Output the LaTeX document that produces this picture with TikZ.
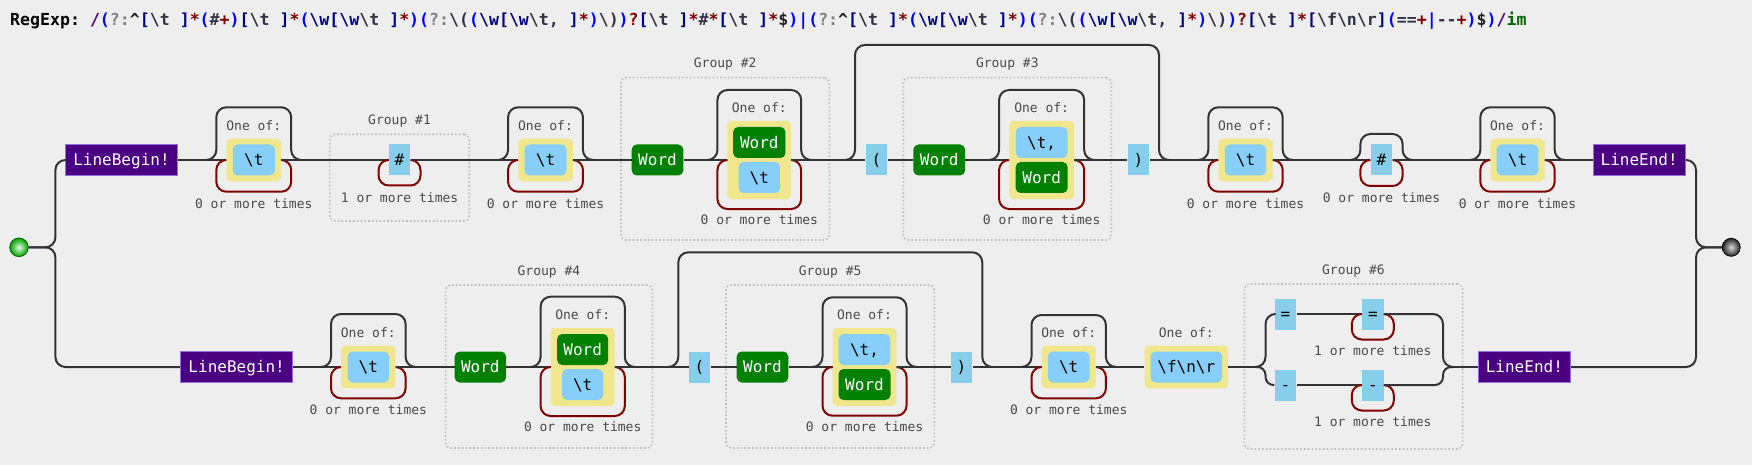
\documentclass[tikz,border=0pt]{standalone}
\usepackage{fontspec}
\newfontfamily\dvm{DejaVu Sans Mono}
\usetikzlibrary{calc}
\definecolor{bgC}{HTML}{EEEEEE}
\definecolor{railC}{HTML}{333333}
\definecolor{maroonC}{HTML}{800000}
\definecolor{khakiC}{HTML}{F0E68C}
\definecolor{lskyC}{HTML}{87CEFA}
\definecolor{skyC}{HTML}{87CEEB}
\definecolor{wordC}{HTML}{008000}
\definecolor{indigoC}{HTML}{4B0082}
\definecolor{indigoB}{HTML}{9370DB}
\definecolor{grpC}{HTML}{BDBDBD}
\definecolor{lblC}{HTML}{4A4A4A}
\definecolor{rxDc}{HTML}{4B0082}
\definecolor{rxGc}{HTML}{0000FF}
\definecolor{rxNc}{HTML}{808080}
\definecolor{rxEc}{HTML}{333344}
\definecolor{rxSc}{HTML}{000080}
\definecolor{rxRc}{HTML}{800000}
\definecolor{rxFc}{HTML}{006400}
\definecolor{rxKc}{HTML}{222222}
\newcommand\rxbs{\textbackslash}
\newcommand\rxD[1]{\textcolor{rxDc}{#1}}
\newcommand\rxG[1]{\textcolor{rxGc}{#1}}
\newcommand\rxN[1]{\textcolor{rxNc}{#1}}
\newcommand\rxE[1]{\textcolor{rxEc}{#1}}
\newcommand\rxS[1]{\textcolor{rxSc}{#1}}
\newcommand\rxR[1]{\textcolor{rxRc}{#1}}
\newcommand\rxF[1]{\textcolor{rxFc}{#1}}
\newcommand\rxK[1]{\textcolor{rxKc}{#1}}
\newcommand\rxTS{\rxS{[}\rxE{\rxbs t }\rxS{]}\rxR{*}}
\newcommand\rxWA{\rxS{\rxbs w}\rxS{[}\rxS{\rxbs w}\rxE{\rxbs t }\rxS{]}\rxR{*}}
\newcommand\rxWB{\rxS{\rxbs w}\rxS{[}\rxS{\rxbs w}\rxE{\rxbs t, }\rxS{]}\rxR{*}}
\newcommand\rrskip[2]{\draw[rr] let \p1=(#1.west), \p2=(#1.east) in (\x1-20pt,\y1) -- (\x1-10pt,\y1) -- (\x1-10pt,-#2pt) -- (\x2+10pt,-#2pt) -- (\x2+10pt,\y2) -- (\x2+20pt,\y2);}
\newcommand\rrloop[2]{\draw[lpc] let \p1=(#1.west), \p2=(#1.east) in (\x2,\y2) -- (\x2+10pt,\y2) -- (\x2+10pt,-#2pt) -- (\x1-10pt,-#2pt) -- (\x1-10pt,\y1) -- (\x1,\y1);}
\begin{document}
\begin{tikzpicture}[x=1pt,y=-1pt,
  rr/.style={draw=railC, line width=2pt, rounded corners=10pt},
  lpc/.style={draw=maroonC, line width=2pt, rounded corners=10pt},
  bx/.style={inner sep=0pt, font=\dvm\fontsize{16}{19}\selectfont, text height=11.7pt, text depth=0pt, minimum height=31pt},
  exch/.style={bx, fill=skyC, text=black},
  csi/.style={bx, fill=lskyC, rounded corners=5pt, text=black},
  wrd/.style={bx, fill=wordC, rounded corners=5pt, text=white},
  asrt/.style={bx, fill=indigoC, draw=indigoB, line width=1pt, text=white},
  cset/.style={fill=khakiC, rounded corners=4pt, inner sep=0pt, minimum height=42.6pt},
  csettwo/.style={cset, minimum height=78pt},
  grp/.style={draw=grpC, line width=1.6pt, dash pattern=on 1.6pt off 2.2pt, rounded corners=5pt, inner sep=0pt},
  lbl/.style={font=\dvm\fontsize{13}{15}\selectfont, text=lblC, inner sep=0pt, text height=9.4pt, text depth=0pt},
  hdr/.style={anchor=base west, inner sep=0pt, font=\dvm\bfseries\fontsize{16.57}{20}\selectfont, text=black}]
\useasboundingbox (0,0) rectangle (1752,465);
\fill[bgC] (0,0) rectangle (1752,465);
% header
\node[hdr] (hdr) at (10,26) {\frenchspacing RegExp: \rxD{/}\rxG{(}\rxN{?:}\rxK{\symbol{94}}\rxTS\rxG{(}\rxE{\#}\rxR{+}\rxG{)}\rxTS\rxG{(}\rxWA\rxG{)}\rxG{(}\rxN{?:}\rxE{\rxbs(}\rxG{(}\rxWB\rxG{)}\rxE{\rxbs)}\rxG{)}\rxR{?}\rxTS\rxE{\#}\rxR{*}\rxTS\rxK{\$}\rxG{)}\rxG{|}\rxG{(}\rxN{?:}\rxK{\symbol{94}}\rxTS\rxG{(}\rxWA\rxG{)}\rxG{(}\rxN{?:}\rxE{\rxbs(}\rxG{(}\rxWB\rxG{)}\rxE{\rxbs)}\rxG{)}\rxR{?}\rxTS\rxS{[}\rxE{\rxbs f\rxbs n\rxbs r}\rxS{]}\rxG{(}\rxE{==}\rxR{+}\rxG{|}\rxE{-{}-}\rxR{+}\rxG{)}\rxK{\$}\rxG{)}\rxD{/}\rxF{im}};
% groups
\node[grp, minimum width=139.3pt, minimum height=86.7pt] (g1) at (399.55,177.65) {};
\node[lbl] (g1l) at (399.55,120.3) {Group \#1};
\node[grp, minimum width=208.3pt, minimum height=162.3pt] (g2) at (725.15,158.85) {};
\node[lbl] (g2l) at (725.15,63.3) {Group \#2};
\node[grp, minimum width=208pt, minimum height=162.3pt] (g3) at (1007.3,158.85) {};
\node[lbl] (g3l) at (1007.3,63.3) {Group \#3};
\node[grp, minimum width=206.7pt, minimum height=163pt] (g4) at (548.95,366.5) {};
\node[lbl] (g4l) at (548.95,270.3) {Group \#4};
\node[grp, minimum width=208.3pt, minimum height=163pt] (g5) at (830.15,366.5) {};
\node[lbl] (g5l) at (830.15,270.7) {Group \#5};
\node[grp, minimum width=218.3pt, minimum height=165pt] (g6) at (1353.45,366.5) {};
\node[lbl] (g6l) at (1353.45,269.3) {Group \#6};
% start / end
\node[circle, minimum size=18.6pt, inner sep=0pt, draw=green!40!black, line width=0.8pt, inner color=green!12!white, outer color=green!62!black] (st) at (19,247.3) {};
\node[circle, minimum size=18pt, inner sep=0pt, draw=black, line width=0.8pt, inner color=white!85!black, outer color=black!85] (en) at (1731.2,247.3) {};
% top row
\node[asrt, minimum width=111.4pt] (lb1) at (121.5,160) {LineBegin!};
\node[cset, minimum width=54.5pt] (y1) at (253.75,160) {};
\node[csi, minimum width=42pt] (t1) at (253.75,160) {\textbackslash t};
\node[lbl] (l1) at (253.75,126) {One of:};
\node[lbl] (r1) at (253.75,204) {0 or more times};
\node[exch, minimum width=21.5pt] (h1) at (399.55,160) {\#};
\node[lbl] (r2) at (399.55,198) {1 or more times};
\node[cset, minimum width=54.5pt] (y2) at (545.5,160) {};
\node[csi, minimum width=42pt] (t2) at (545.5,160) {\textbackslash t};
\node[lbl] (l2) at (545.5,126) {One of:};
\node[lbl] (r3) at (545.5,204) {0 or more times};
\node[wrd, minimum width=51.6pt] (w2) at (657.5,160) {Word};
\node[csettwo, minimum width=63.3pt] (y3) at (759.3,160) {};
\node[wrd, minimum width=52.3pt] (y3a) at (759.3,142.5) {Word};
\node[csi, minimum width=41.3pt] (y3b) at (759.3,177.5) {\textbackslash t};
\node[lbl] (l3) at (759.3,107.7) {One of:};
\node[lbl] (r4) at (759.3,220) {0 or more times};
\node[exch, minimum width=21.7pt] (lp1) at (876.5,160) {(};
\node[wrd, minimum width=51.7pt] (w3) at (939.2,160) {Word};
\node[csettwo, minimum width=64.7pt] (y4) at (1041.65,160) {};
\node[csi, minimum width=51.7pt] (y4a) at (1041.65,142.5) {\textbackslash t,};
\node[wrd, minimum width=52pt] (y4b) at (1041.65,177.5) {Word};
\node[lbl] (l4) at (1041.65,107.7) {One of:};
\node[lbl] (r5) at (1041.65,220) {0 or more times};
\node[exch, minimum width=21.8pt] (rp1) at (1138.5,160) {)};
\node[cset, minimum width=54pt] (y5) at (1245.5,160) {};
\node[csi, minimum width=41.2pt] (t5) at (1245.5,160) {\textbackslash t};
\node[lbl] (l5) at (1245.5,125.7) {One of:};
\node[lbl] (r6) at (1245.5,204) {0 or more times};
\node[exch, minimum width=21.8pt] (h2) at (1381.5,160) {\#};
\node[lbl] (r7) at (1381.5,198.3) {0 or more times};
\node[cset, minimum width=54pt] (y6) at (1517.5,160) {};
\node[csi, minimum width=41.6pt] (t6) at (1517.5,160) {\textbackslash t};
\node[lbl] (l6) at (1517.5,125.7) {One of:};
\node[lbl] (r8) at (1517.5,204) {0 or more times};
\node[asrt, minimum width=92.3pt] (le1) at (1639.15,160) {LineEnd!};
% bottom row
\node[asrt, minimum width=111.9pt] (lb2) at (236.65,367) {LineBegin!};
\node[cset, minimum width=54.2pt] (y7) at (368.3,367) {};
\node[csi, minimum width=41.5pt] (t7) at (368.3,367) {\textbackslash t};
\node[lbl] (l7) at (368.3,332.3) {One of:};
\node[lbl] (r9) at (368.3,410) {0 or more times};
\node[wrd, minimum width=51.3pt] (w4) at (480.35,367) {Word};
\node[csettwo, minimum width=63.8pt] (y8) at (582.7,367) {};
\node[wrd, minimum width=51pt] (y8a) at (582.7,349.5) {Word};
\node[csi, minimum width=41.2pt] (y8b) at (582.7,384.5) {\textbackslash t};
\node[lbl] (l8) at (582.7,314.7) {One of:};
\node[lbl] (r10) at (582.7,427) {0 or more times};
\node[exch, minimum width=21.6pt] (lp2) at (699.5,367) {(};
\node[wrd, minimum width=51.6pt] (w5) at (762.5,367) {Word};
\node[csettwo, minimum width=63.6pt] (y9) at (864.5,367) {};
\node[csi, minimum width=51.7pt] (y9a) at (864.5,349.5) {\textbackslash t,};
\node[wrd, minimum width=52pt] (y9b) at (864.5,384.5) {Word};
\node[lbl] (l9) at (864.5,315.2) {One of:};
\node[lbl] (r11) at (864.5,427) {0 or more times};
\node[exch, minimum width=21.6pt] (rp2) at (961.5,367) {)};
\node[cset, minimum width=54pt] (y10) at (1068.7,367) {};
\node[csi, minimum width=41.6pt] (t10) at (1068.7,367) {\textbackslash t};
\node[lbl] (l10) at (1068.7,332.3) {One of:};
\node[lbl] (r12) at (1068.7,410) {0 or more times};
\node[cset, minimum width=83.5pt] (y11) at (1186.25,367) {};
\node[csi, minimum width=71.5pt] (t11) at (1186.25,367) {\textbackslash f\textbackslash n\textbackslash r};
\node[lbl] (l11) at (1186.25,332.7) {One of:};
\node[exch, minimum width=21.7pt] (e1) at (1285.45,314) {=};
\node[exch, minimum width=21.6pt] (e2) at (1372.8,314) {=};
\node[lbl] (r13) at (1372.8,351) {1 or more times};
\node[exch, minimum width=21.7pt] (m1) at (1285.45,385) {-};
\node[exch, minimum width=21.6pt] (m2) at (1372.8,385) {-};
\node[lbl] (r14) at (1372.8,422) {1 or more times};
\node[asrt, minimum width=91.9pt] (le2) at (1524.35,367) {LineEnd!};
\coordinate (sp) at (1255.5,367);
\coordinate (mg) at (1453,367);
\coordinate (o1s) at (845,160);
\coordinate (o1e) at (1169,160);
\coordinate (o2s) at (668.3,367);
\coordinate (o2e) at (992.3,367);
% rails top
\draw[rr] (st.east) -- (55.4,247.3) -- (55.4,160) -- (lb1.west);
\draw[rr] (lb1.east) -- (y1.west);
\rrskip{y1}{107.3}\rrloop{y1}{191.7}
\draw[rr] (y1.east) -- (h1.west);
\rrloop{h1}{185.5}
\draw[rr] (h1.east) -- (y2.west);
\rrskip{y2}{107.3}\rrloop{y2}{191.7}
\draw[rr] (y2.east) -- (w2.west);
\draw[rr] (w2.east) -- (y3.west);
\rrskip{y3}{90}\rrloop{y3}{209}
\draw[rr] (y3.east) -- (lp1.west);
\draw[rr] (o1s) -- (855,160) -- (855,45) -- (1159,45) -- (1159,160) -- (o1e);
\draw[rr] (lp1.east) -- (w3.west);
\draw[rr] (w3.east) -- (y4.west);
\rrskip{y4}{90}\rrloop{y4}{209}
\draw[rr] (y4.east) -- (rp1.west);
\draw[rr] (rp1.east) -- (y5.west);
\rrskip{y5}{107.3}\rrloop{y5}{191.7}
\draw[rr] (y5.east) -- (h2.west);
\rrskip{h2}{134}\rrloop{h2}{186}
\draw[rr] (h2.east) -- (y6.west);
\rrskip{y6}{107.3}\rrloop{y6}{191.7}
\draw[rr] (y6.east) -- (le1.west);
\draw[rr] (le1.east) -- (1696,160) -- (1696,247.3) -- (en.west);
% rails bottom
\draw[rr] (st.east) -- (55.4,247.3) -- (55.4,367) -- (lb2.west);
\draw[rr] (lb2.east) -- (y7.west);
\rrskip{y7}{314}\rrloop{y7}{398.3}
\draw[rr] (y7.east) -- (w4.west);
\draw[rr] (w4.east) -- (y8.west);
\rrskip{y8}{296.7}\rrloop{y8}{416}
\draw[rr] (y8.east) -- (lp2.west);
\draw[rr] (o2s) -- (678.3,367) -- (678.3,252.3) -- (982.3,252.3) -- (982.3,367) -- (o2e);
\draw[rr] (lp2.east) -- (w5.west);
\draw[rr] (w5.east) -- (y9.west);
\rrskip{y9}{297.3}\rrloop{y9}{415.7}
\draw[rr] (y9.east) -- (rp2.west);
\draw[rr] (rp2.east) -- (y10.west);
\rrskip{y10}{315}\rrloop{y10}{398.3}
\draw[rr] (y10.east) -- (y11.west);
\draw[rr] (y11.east) -- (sp);
\draw[rr] (sp) -- (1265.5,367) -- (1265.5,314) -- (e1.west);
\draw[rr, rounded corners=8pt] (sp) -- (1265.5,367) -- (1265.5,385) -- (m1.west);
\draw[rr] (e1.east) -- (e2.west);
\rrloop{e2}{339.5}
\draw[rr] (m1.east) -- (m2.west);
\rrloop{m2}{410.5}
\draw[rr] (e2.east) -- (1443,314) -- (1443,367) -- (mg);
\draw[rr, rounded corners=8pt] (m2.east) -- (1443,385) -- (1443,367) -- (mg);
\draw[rr] (mg) -- (le2.west);
\draw[rr] (le2.east) -- (1696,367) -- (1696,247.3) -- (en.west);
\end{tikzpicture}
\end{document}
